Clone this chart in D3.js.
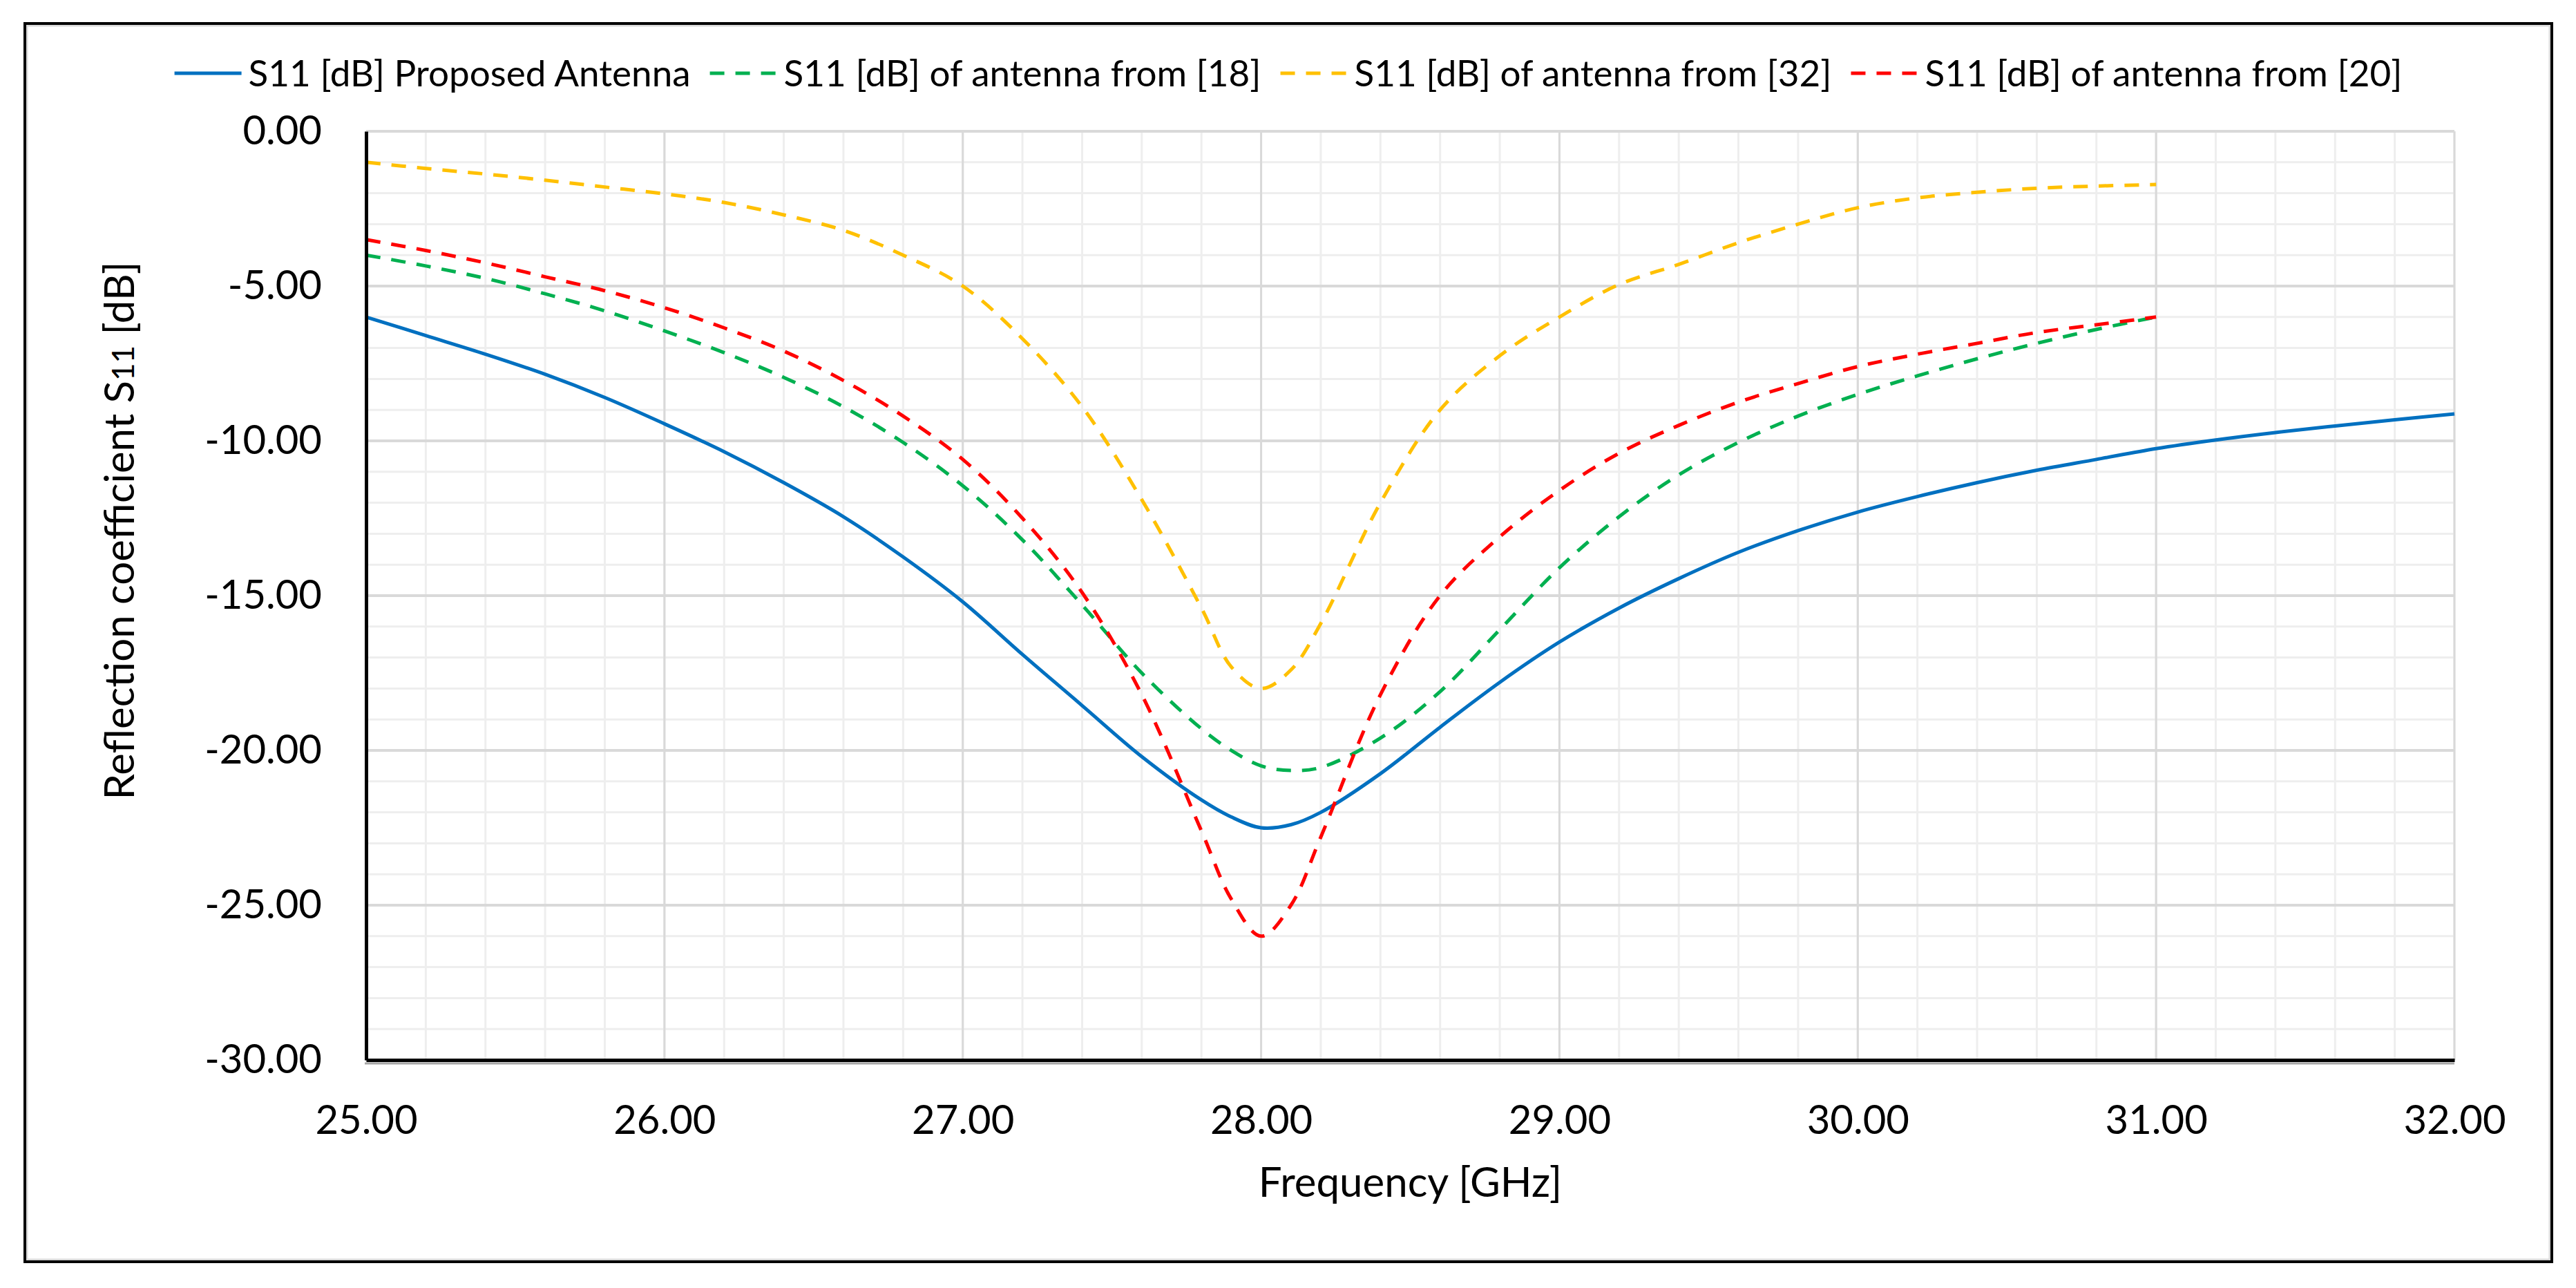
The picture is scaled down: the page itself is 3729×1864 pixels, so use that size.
<!DOCTYPE html>
<html>
<head>
<meta charset="utf-8">
<script src="https://cdn.jsdelivr.net/npm/d3@7"></script>
<style>
  html, body { margin: 0; padding: 0; background: #fff; }
  text { font-family: Lato, "Open Sans", sans-serif; fill: #000; }
</style>
</head>
<body>
<figure id="chart" style="margin:0"></figure>
<script>
// frequency points (GHz) shared by all series
const freqGHz = [25, 25.2, 25.4, 25.6, 25.8, 26, 26.2, 26.4, 26.6, 26.8, 27, 27.2, 27.4, 27.6, 27.8, 27.9, 28, 28.1,
  28.2, 28.4, 28.6, 28.8, 29, 29.2, 29.4, 29.6, 29.8, 30, 30.2, 30.4, 30.6, 30.8, 31, 31.2, 31.4, 31.6, 31.8, 32];

const s11Proposed = [-6.0, -6.6, -7.2, -7.85, -8.6, -9.45, -10.35, -11.35, -12.45, -13.75, -15.2, -16.9, -18.55, -20.2, -21.6, -22.15, -22.5, -22.4,
  -22.0, -20.75, -19.25, -17.8, -16.5, -15.4, -14.45, -13.6, -12.9, -12.3, -11.8, -11.35, -10.95, -10.6, -10.25, -9.97, -9.73, -9.52, -9.32, -9.13];

const s11Ref18 = [-4.0, -4.35, -4.75, -5.25, -5.8, -6.45, -7.15, -7.95, -8.9, -10.05, -11.45, -13.2, -15.3, -17.5, -19.3, -20.0, -20.5, -20.65,
  -20.55, -19.6, -18.1, -16.1, -14.1, -12.45, -11.1, -10.05, -9.2, -8.5, -7.9, -7.35, -6.85, -6.4, -6.0, null, null, null, null, null];

const s11Ref32 = [-1.0, -1.2, -1.38, -1.58, -1.8, -2.02, -2.3, -2.7, -3.2, -4.0, -5.0, -6.7, -8.9, -11.9, -15.4, -17.3, -18.0, -17.4,
  -15.9, -12.0, -9.0, -7.25, -6.0, -4.95, -4.3, -3.6, -3.0, -2.47, -2.15, -1.97, -1.84, -1.77, -1.72, null, null, null, null, null];

const s11Ref20 = [-3.5, -3.85, -4.25, -4.7, -5.15, -5.7, -6.35, -7.1, -8.05, -9.2, -10.6, -12.5, -14.9, -18.2, -22.6, -24.8, -26.0, -25.0,
  -22.8, -18.2, -15.0, -13.1, -11.6, -10.4, -9.5, -8.75, -8.15, -7.6, -7.2, -6.85, -6.5, -6.25, -6.0, null, null, null, null, null];

const seriesNames = ["S11 [dB] Proposed Antenna", "S11 [dB] of antenna from [18]",
  "S11 [dB] of antenna from [32]", "S11 [dB] of antenna from [20]"];
const seriesColors = ["#0070C0", "#00B050", "#FFC000", "#FF0000"];
const seriesDashed = [false, true, true, true];

const xTicks = [25, 26, 27, 28, 29, 30, 31, 32];
const yTicks = [0, -5, -10, -15, -20, -25, -30];

const W = 3729, H = 1864;
const plot = { left: 530, right: 3553, top: 190, bottom: 1534 };

const svg = d3.select("#chart").append("svg")
  .attr("width", W).attr("height", H)
  .style("display", "block");

svg.append("rect").attr("width", W).attr("height", H).attr("fill", "#fff");

// outer frame with the soft inner shadow
svg.append("rect")
  .attr("x", 39).attr("y", 37).attr("width", 3652).attr("height", 1786)
  .attr("fill", "none").attr("stroke", "#d9d9d9").attr("stroke-width", 3);
svg.append("rect")
  .attr("x", 36).attr("y", 34).attr("width", 3658).attr("height", 1792)
  .attr("fill", "none").attr("stroke", "#000").attr("stroke-width", 4);

const x = d3.scaleLinear().domain([25, 32]).range([plot.left, plot.right]);
const y = d3.scaleLinear().domain([-30, 0]).range([plot.bottom, plot.top]);

// gridlines: minor first, major on top
const grid = svg.append("g");
grid.selectAll(".vminor").data(x.ticks(35)).enter().append("line")
  .attr("x1", d => x(d)).attr("x2", d => x(d))
  .attr("y1", plot.top).attr("y2", plot.bottom)
  .attr("stroke", "#eeeeee").attr("stroke-width", 3);
grid.selectAll(".hminor").data(y.ticks(30)).enter().append("line")
  .attr("y1", d => y(d)).attr("y2", d => y(d))
  .attr("x1", plot.left).attr("x2", plot.right)
  .attr("stroke", "#eeeeee").attr("stroke-width", 3);
grid.selectAll(".vmajor").data(xTicks).enter().append("line")
  .attr("x1", d => x(d)).attr("x2", d => x(d))
  .attr("y1", plot.top).attr("y2", plot.bottom)
  .attr("stroke", "#d9d9d9").attr("stroke-width", 3);
grid.selectAll(".hmajor").data(yTicks).enter().append("line")
  .attr("y1", d => y(d)).attr("y2", d => y(d))
  .attr("x1", plot.left).attr("x2", plot.right)
  .attr("stroke", "#d9d9d9").attr("stroke-width", 4);

// series
const line = d3.line()
  .defined(d => d[1] !== null)
  .x(d => x(d[0]))
  .y(d => y(d[1]))
  .curve(d3.curveCatmullRom.alpha(0.5));

const seriesValues = [s11Proposed, s11Ref18, s11Ref32, s11Ref20];
seriesValues.forEach((vals, i) => {
  svg.append("path")
    .datum(freqGHz.map((f, k) => [f, vals[k]]))
    .attr("fill", "none")
    .attr("stroke", seriesColors[i])
    .attr("stroke-width", 5)
    .attr("stroke-dasharray", seriesDashed[i] ? "21,16" : null)
    .attr("d", line);
});

// axes
const fmt = d => d.toFixed(2);
svg.append("line")
  .attr("x1", plot.left - 2).attr("x2", plot.right)
  .attr("y1", plot.bottom + 5).attr("y2", plot.bottom + 5)
  .attr("stroke", "#a6a6a6").attr("stroke-width", 3);

const yAxis = svg.append("g")
  .attr("transform", `translate(${plot.left},0)`)
  .call(d3.axisLeft(y).tickValues(yTicks).tickFormat(fmt).tickSize(0).tickPadding(64));
const xAxis = svg.append("g")
  .attr("transform", `translate(0,${plot.bottom})`)
  .call(d3.axisBottom(x).tickValues(xTicks).tickFormat(fmt).tickSize(0).tickPadding(66));

[yAxis, xAxis].forEach(g => {
  g.select(".domain").attr("stroke", "#000").attr("stroke-width", 5);
  g.selectAll("text").style("font-size", "58px").attr("fill", "#000");
});
xAxis.selectAll("text").attr("dy", "0.71em");

// axis titles
svg.append("text")
  .attr("x", (plot.left + plot.right) / 2).attr("y", 1732)
  .attr("text-anchor", "middle")
  .style("font-size", "60px")
  .text("Frequency [GHz]");

const yTitle = svg.append("text")
  .attr("transform", "translate(194,768) rotate(-90)")
  .attr("text-anchor", "middle")
  .style("font-size", "60px");
yTitle.append("tspan").text("Reflection coefficient S");
yTitle.append("tspan").style("font-size", "44px").text("11");
yTitle.append("tspan").text(" [dB]");

// legend
const legend = svg.append("g");
const sampleLen = 97, textGap = 10, itemGap = 28, legendY = 106;
let cursor = 0;
seriesNames.forEach((name, i) => {
  const g = legend.append("g");
  g.append("line")
    .attr("x1", 0).attr("x2", sampleLen)
    .attr("y1", 0).attr("y2", 0)
    .attr("stroke", seriesColors[i]).attr("stroke-width", 5)
    .attr("stroke-dasharray", seriesDashed[i] ? "21,16" : null);
  const t = g.append("text")
    .attr("x", sampleLen + textGap).attr("dy", "0.35em")
    .style("font-size", "53px")
    .text(name);
  const w = sampleLen + textGap + t.node().getComputedTextLength();
  g.attr("transform", `translate(${cursor},0)`);
  cursor += w + itemGap;
});
const legendWidth = cursor - itemGap;
legend.attr("transform", `translate(${(36 + 3694) / 2 - legendWidth / 2},${legendY})`);
</script>
</body>
</html>
